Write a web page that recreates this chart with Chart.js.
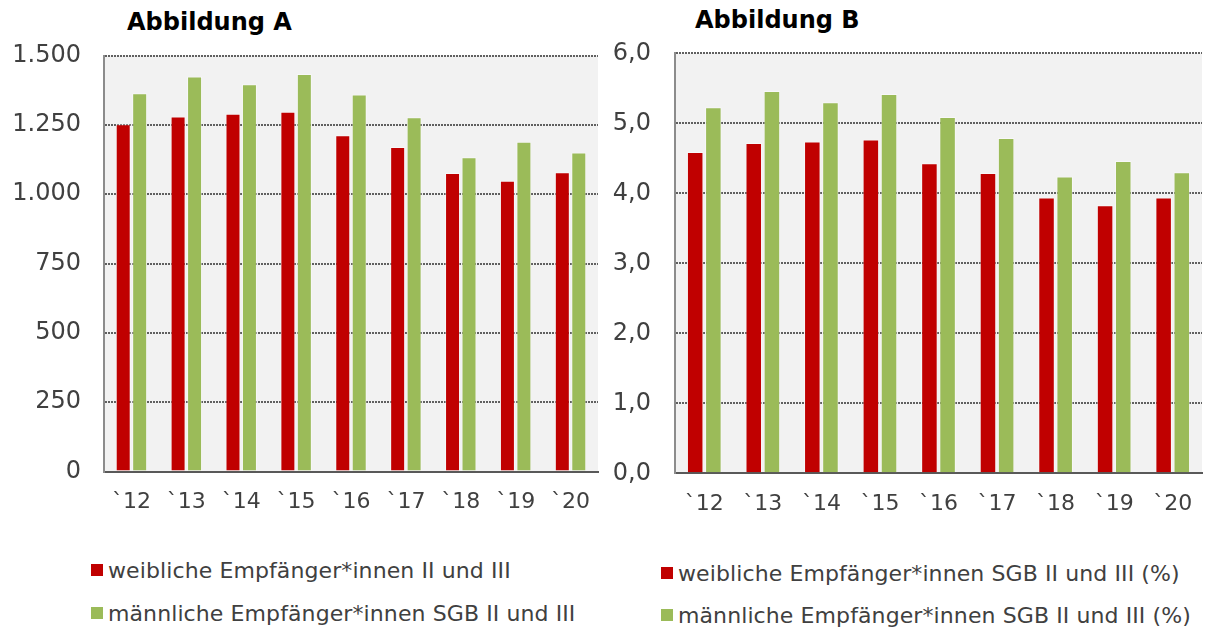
<!DOCTYPE html>
<html lang="de">
<head>
<meta charset="utf-8">
<title>Empfänger*innen SGB II und III</title>
<script src="https://cdn.jsdelivr.net/npm/chart.js@4.4.0/dist/chart.umd.min.js"></script>
<style>
  body { margin: 0; background: #fff; font-family: "DejaVu Sans", Verdana, sans-serif; }
  #page { position: relative; width: 1211px; height: 629px; overflow: hidden; }
  canvas { position: absolute; top: 0; }
  .titel { position: absolute; font-weight: bold; font-size: 24px; color: #000; white-space: nowrap; line-height: 28px; }
  .legende { position: absolute; font-size: 22px; letter-spacing: 0.1px; color: #404040; }
  .legende .zeile { position: absolute; left: 0; display: flex; align-items: center; height: 26px; white-space: nowrap; }
  .legende .box { width: 12px; height: 12px; margin-right: 5px; flex: none; }
</style>
</head>
<body>
<div id="page">
  <div class="titel" style="left:127px; top:8px;">Abbildung A</div>
  <div class="titel" style="left:695px; top:6px;">Abbildung B</div>
  <canvas id="chartA" width="605" height="525" style="left:0"></canvas>
  <canvas id="chartB" width="606" height="525" style="left:605px"></canvas>
  <div class="legende" id="legendeA" style="left:91px; top:557px;"></div>
  <div class="legende" id="legendeB" style="left:661px; top:560px;"></div>
</div>
<script>
// Jahre und Werte
const jahre = ['`12', '`13', '`14', '`15', '`16', '`17', '`18', '`19', '`20'];

// Abbildung A: Empfänger*innen (absolut)
const weiblichAnzahl = [1252, 1280, 1290, 1297, 1212, 1170, 1076, 1048, 1079];
const maennlichAnzahl = [1364, 1424, 1396, 1433, 1359, 1277, 1133, 1189, 1150];

// Abbildung B: Anteil in Prozent
const weiblichQuote = [4.59, 4.72, 4.74, 4.77, 4.43, 4.29, 3.94, 3.83, 3.94];
const maennlichQuote = [5.23, 5.46, 5.30, 5.42, 5.09, 4.79, 4.24, 4.46, 4.30];

const ROT = '#C00000';
const GRUEN = '#9BBB59';

// grauer Hintergrund nur hinter der Zeichenfläche
const plotHintergrund = {
  id: 'plotHintergrund',
  beforeDraw(chart) {
    const { ctx, chartArea: a } = chart;
    ctx.save();
    ctx.fillStyle = '#F2F2F2';
    ctx.fillRect(a.left, a.top, a.right - a.left, a.bottom - a.top);
    ctx.restore();
  }
};

function balkenChart(id, reihen, cfg) {
  return new Chart(document.getElementById(id), {
    type: 'bar',
    data: {
      labels: jahre,
      datasets: reihen.map(r => ({
        label: r.label,
        data: r.data,
        backgroundColor: r.farbe,
        borderColor: 'rgba(255,255,255,0.45)',
        borderWidth: { top: 1, left: 1, right: 1, bottom: 0 },
        categoryPercentage: cfg.kategorie,
        barPercentage: 0.91
      }))
    },
    options: {
      responsive: false,
      animation: false,
      layout: { padding: { top: cfg.oben, right: cfg.rechts, bottom: 0, left: 0 } },
      plugins: { legend: { display: false }, tooltip: { enabled: false } },
      scales: {
        x: {
          grid: { display: false },
          border: { display: true, color: '#595959', width: 2 },
          ticks: {
            color: '#404040',
            font: { family: '"DejaVu Sans", Verdana, sans-serif', size: 22 },
            padding: 10,
            maxRotation: 0
          },
          afterFit(scale) { scale.height = cfg.xHoehe; }
        },
        y: {
          min: 0,
          max: cfg.max,
          ticks: {
            stepSize: cfg.schritt,
            color: '#404040',
            font: { family: '"DejaVu Sans", Verdana, sans-serif', size: 24 },
            padding: cfg.abstand,
            callback: cfg.format
          },
          grid: { color: '#606060', lineWidth: 2, drawTicks: false },
          border: { display: true, color: '#8C8C8C', width: 2, dash: [2, 1] },
          afterFit(scale) { scale.width = cfg.yBreite; }
        }
      }
    },
    plugins: [plotHintergrund]
  });
}

function legendeBauen(chart, zielId, abstand) {
  const ziel = document.getElementById(zielId);
  chart.data.datasets.forEach((ds, i) => {
    const zeile = document.createElement('div');
    zeile.className = 'zeile';
    zeile.style.top = (i * abstand) + 'px';
    zeile.innerHTML = '<span class="box" style="background:' + ds.backgroundColor + '"></span>' + ds.label;
    ziel.appendChild(zeile);
  });
}

const chartA = balkenChart('chartA', [
  { label: 'weibliche Empfänger*innen II und III', data: weiblichAnzahl, farbe: ROT },
  { label: 'männliche Empfänger*innen SGB II und III', data: maennlichAnzahl, farbe: GRUEN }
], {
  max: 1500, schritt: 250, oben: 55.5, rechts: 7, xHoehe: 53.5, yBreite: 104, abstand: 23,
  kategorie: 0.6,
  format: v => v.toLocaleString('de-DE')
});

const chartB = balkenChart('chartB', [
  { label: 'weibliche Empfänger*innen SGB II und III (%)', data: weiblichQuote, farbe: ROT },
  { label: 'männliche Empfänger*innen SGB II und III (%)', data: maennlichQuote, farbe: GRUEN }
], {
  max: 6, schritt: 1, oben: 53.3, rechts: 9, xHoehe: 51.7, yBreite: 70, abstand: 24,
  kategorie: 0.62,
  format: v => v.toLocaleString('de-DE', { minimumFractionDigits: 1, maximumFractionDigits: 1 })
});

legendeBauen(chartA, 'legendeA', 43);
legendeBauen(chartB, 'legendeB', 42);
</script>
</body>
</html>
